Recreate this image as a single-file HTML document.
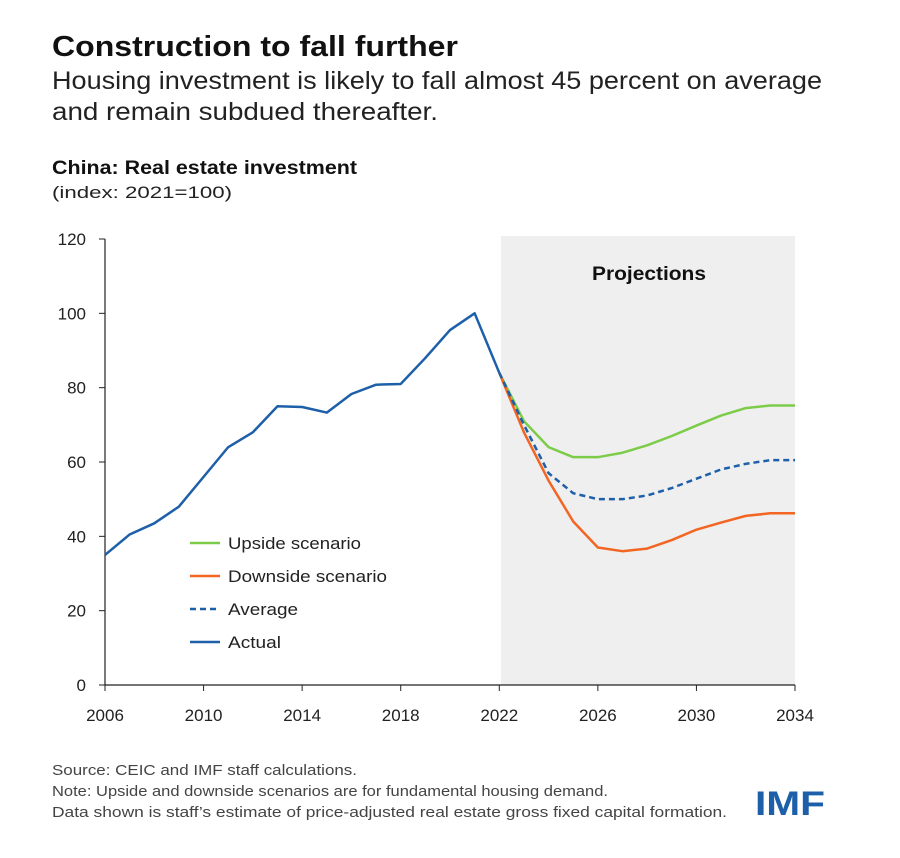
<!DOCTYPE html>
<html><head><meta charset="utf-8"><style>
body{margin:0;background:#fff;width:900px;height:853px;overflow:hidden;font-family:"Liberation Sans",sans-serif;}
</style></head><body>
<svg width="900" height="853" xmlns="http://www.w3.org/2000/svg" id="svg">
<text x="52" y="56" font-size="29" font-weight="bold" fill="#111" textLength="406" lengthAdjust="spacingAndGlyphs">Construction to fall further</text>
<text x="52" y="89" font-size="25" fill="#222" textLength="770" lengthAdjust="spacingAndGlyphs">Housing investment is likely to fall almost 45 percent on average</text>
<text x="52" y="120" font-size="25" fill="#222" textLength="386" lengthAdjust="spacingAndGlyphs">and remain subdued thereafter.</text>
<text x="52" y="174" font-size="19" font-weight="bold" fill="#111" textLength="305" lengthAdjust="spacingAndGlyphs">China: Real estate investment</text>
<text x="52" y="198" font-size="17" fill="#222" textLength="180" lengthAdjust="spacingAndGlyphs">(index: 2021=100)</text>
<rect x="501" y="236" width="294" height="449" fill="#efefef"/>
<text x="649" y="280" font-size="19" font-weight="bold" text-anchor="middle" fill="#111" textLength="114" lengthAdjust="spacingAndGlyphs">Projections</text>
<g id="axes"></g>
<g id="series"></g>
<g font-size="17" fill="#222">
<line x1="190" y1="543" x2="220" y2="543" stroke="#7ccc4a" stroke-width="2.5"/>
<text x="228" y="549" textLength="133" lengthAdjust="spacingAndGlyphs">Upside scenario</text>
<line x1="190" y1="576" x2="220" y2="576" stroke="#f26522" stroke-width="2.5"/>
<text x="228" y="582" textLength="159" lengthAdjust="spacingAndGlyphs">Downside scenario</text>
<line x1="190" y1="609" x2="220" y2="609" stroke="#1d5fa8" stroke-width="2.5" stroke-dasharray="6,4"/>
<text x="228" y="615" textLength="70" lengthAdjust="spacingAndGlyphs">Average</text>
<line x1="190" y1="642" x2="220" y2="642" stroke="#1d5fa8" stroke-width="2.5"/>
<text x="228" y="648" textLength="53" lengthAdjust="spacingAndGlyphs">Actual</text>
</g>
<g font-size="15" fill="#444">
<text x="52" y="775" textLength="305" lengthAdjust="spacingAndGlyphs">Source: CEIC and IMF staff calculations.</text>
<text x="52" y="796" textLength="556" lengthAdjust="spacingAndGlyphs">Note: Upside and downside scenarios are for fundamental housing demand.</text>
<text x="52" y="817" textLength="675" lengthAdjust="spacingAndGlyphs">Data shown is staff’s estimate of price-adjusted real estate gross fixed capital formation.</text>
</g>
<text x="755" y="815" font-size="34" font-weight="bold" fill="#1d5fa8" textLength="70" lengthAdjust="spacingAndGlyphs">IMF</text>
</svg>
<script>
const years=[2006,2007,2008,2009,2010,2011,2012,2013,2014,2015,2016,2017,2018,2019,2020,2021,2022];
const actual=[35,40.5,43.5,48,56,64,68,75,74.8,73.3,78.3,80.8,81,88,95.5,100,84];
const projYears=[2022,2023,2024,2025,2026,2027,2028,2029,2030,2031,2032,2033,2034];
const upside=[84,71,64,61.3,61.3,62.5,64.5,67,69.8,72.5,74.5,75.2,75.2];
const downside=[84,68,55,44,37,36,36.7,39,41.8,43.7,45.5,46.2,46.2];
const average=[84,70,57,51.6,50,50,51,53,55.5,58,59.5,60.5,60.5];
const yTicks=[0,20,40,60,80,100,120];
const xTicks=[2006,2010,2014,2018,2022,2026,2030,2034];
const NS="http://www.w3.org/2000/svg";
const X=v=>105+(v-2006)*(690/28);
const Y=v=>685-v*(446/120);
const axes=document.getElementById('axes'),ser=document.getElementById('series');
function mk(tag,attrs,parent){const e=document.createElementNS(NS,tag);for(const k in attrs)e.setAttribute(k,attrs[k]);parent.appendChild(e);return e;}
let e=mk('line',{x1:105,y1:Y(120),x2:105,y2:685,stroke:'#222','stroke-width':1.2},axes);


e=mk('line',{x1:105,y1:685,x2:795,y2:685,stroke:'#222','stroke-width':1.2},axes);


yTicks.forEach(t=>{mk('line',{x1:99,y1:Y(t),x2:105,y2:Y(t),stroke:'#222'},axes);
const tx=mk('text',{x:86,y:Y(t)+6,'font-size':17,'text-anchor':'end',fill:'#222'},axes);tx.textContent=t;

});
xTicks.forEach(t=>{mk('line',{x1:X(t),y1:685,x2:X(t),y2:691,stroke:'#222'},axes);
const tx=mk('text',{x:X(t),y:721,'font-size':17,'text-anchor':'middle',fill:'#222'},axes);tx.textContent=t;

});
function line(xs,vs,color,dash,name){const p=mk('polyline',{points:xs.map((x,i)=>X(x)+','+Y(vs[i])).join(' '),fill:'none',stroke:color,'stroke-width':2.5,'stroke-linejoin':'round'},ser);
if(dash)p.setAttribute('stroke-dasharray',dash);

}
line(projYears,upside,'#7ccc4a',null,'upside-line');
line(projYears,downside,'#f26522',null,'downside-line');
line(projYears,average,'#1d5fa8','6,4','average-line');
line(years,actual,'#1d5fa8',null,'actual-line');
</script>
</body></html>
